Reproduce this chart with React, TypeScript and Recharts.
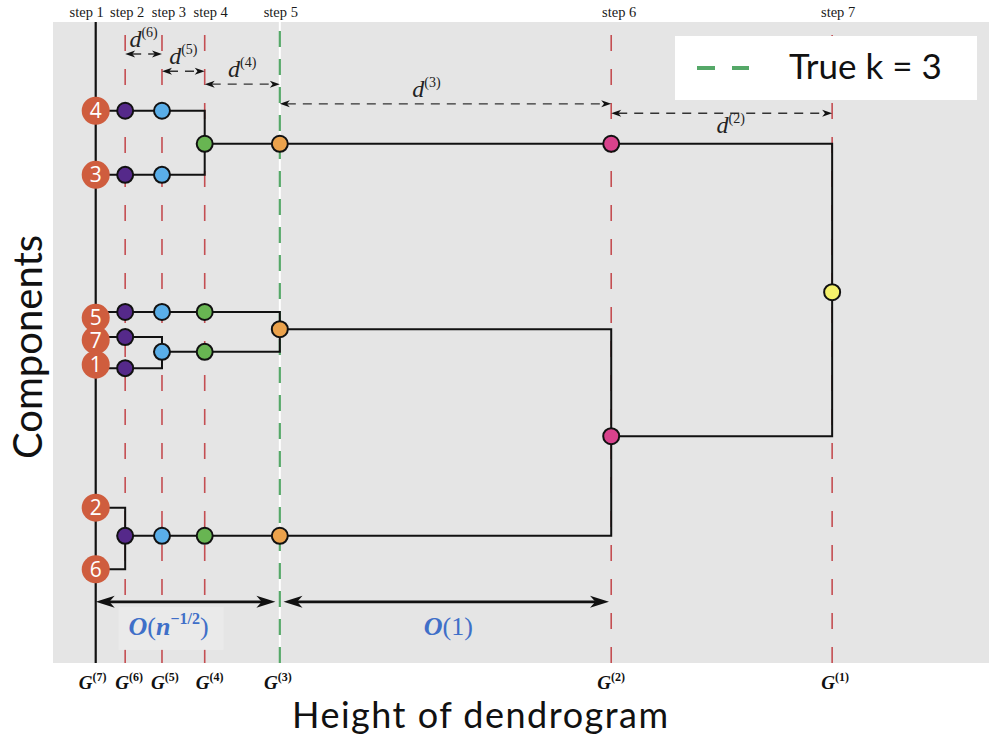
import React from 'react';
import {
  ComposedChart,
  XAxis,
  YAxis,
  Line,
  Scatter,
  ReferenceLine,
  ReferenceArea,
  Legend,
} from 'recharts';

// Dendrogram heights at which each agglomeration step happens (step 1 = singletons)
const stepNumbers = [1, 2, 3, 4, 5, 6, 7];
const stepHeights = [0, 0.4, 0.9, 1.48, 2.5, 7.0, 10.0];
const graphIndex = [7, 6, 5, 4, 3, 2, 1];
const trueK = 3;

// Leaves (components) in drawing order, top to bottom
const leafIds = [4, 3, 5, 7, 1, 2, 6];
const leafBadgePos = [11.2, 9.9, 7.0, 6.55, 6.05, 3.15, 1.9];
const leafTrackPos = [11.2, 9.9, 7.12, 6.61, 5.98, 3.15, 1.9];

// Merges: at mergeStep[k] the clusters mergeA[k] and mergeB[k] join at mergePos[k]
const mergeStep = [2, 3, 4, 5, 6, 7];
const mergeA = ['2', '7', '4', '5', '5+7+1', '4+3'];
const mergeB = ['6', '1', '3', '7+1', '2+6', '5+7+1+2+6'];
const mergePos = [2.58, 6.31, 10.53, 6.77, 4.6, 7.52];

// Gaps between consecutive graphs d^(k), drawn from step to step
const gapIndex = [6, 5, 4, 3, 2];
const gapFromStep = [2, 3, 4, 5, 6];
const gapToStep = [3, 4, 5, 6, 7];
const gapLevel = [12.35, 12.0, 11.74, 11.34, 11.15];

// Order-of-magnitude spans along the height axis
const orderLabels = ['n', '1'];
const orderFrom = [0, 2.55];
const orderTo = [2.44, 6.97];
const orderLevel = 1.24;

const X_DOMAIN: [number, number] = [-0.58, 12.13];
const Y_DOMAIN: [number, number] = [0, 13];

const BG = '#e5e5e5';
const RED = '#c44e52';
const GREEN = '#55a868';
const BADGE = '#cf5d3e';
const dotColors = ['#55298a', '#5aaee8', '#68b552', '#eba24c', '#d8428c', '#f5f16b'];
const SERIF = '"Liberation Serif", "DejaVu Serif", serif';
const SANS = 'Lato, "Noto Sans", sans-serif';

// Walk the merge list to get the branch polylines and the cluster nodes after each step
type Pt = { h: number; pos: number };
const branchPaths: Pt[][] = [];
const nodesByStep: Pt[][] = [];
{
  const live = new Map<string, { pos: number; born: number }>();
  leafIds.forEach((id, i) => live.set(String(id), { pos: leafTrackPos[i], born: 0 }));
  mergeStep.forEach((s, k) => {
    const h = stepHeights[s - 1];
    [mergeA[k], mergeB[k]].forEach((key) => {
      const c = live.get(key)!;
      branchPaths.push([
        { h: c.born, pos: c.pos },
        { h, pos: c.pos },
        { h, pos: mergePos[k] },
      ]);
      live.delete(key);
    });
    live.set(`${mergeA[k]}+${mergeB[k]}`, { pos: mergePos[k], born: h });
    nodesByStep.push(Array.from(live.values()).map((c) => ({ h, pos: c.pos })));
  });
}

const leafData = leafIds.map((id, i) => ({ h: 0, pos: leafBadgePos[i], id }));

// small horizontal nudges so the crowded labels near the leaves stay apart
const stepLabelDx = [-9, 2, 7, 6, 1, 8, 6];
const graphLabelDx = [-3, 4, 3, 5, -2, 0, 3];

const TopTick = (props: any) => {
  const { x, y, payload } = props;
  const i = stepHeights.indexOf(payload.value);
  return (
    <text
      x={x + (stepLabelDx[i] ?? 0)}
      y={y + 3}
      textAnchor="middle"
      fontFamily={SERIF}
      fontSize={14.5}
      fill="#1a1a1a"
    >
      {`step ${stepNumbers[i]}`}
    </text>
  );
};

const BottomTick = (props: any) => {
  const { x, y, payload } = props;
  const i = stepHeights.indexOf(payload.value);
  return (
    <text
      x={x + (graphLabelDx[i] ?? 0)}
      y={y + 18}
      textAnchor="middle"
      fontFamily={SERIF}
      fill="#111"
      fontWeight="bold"
    >
      <tspan fontStyle="italic" fontSize={19}>G</tspan>
      <tspan fontSize={12} dy={-8}>{`(${graphIndex[i]})`}</tspan>
    </text>
  );
};

const headPath = (tx: number, ty: number, dir: number, len: number, wid: number) => {
  const bx = tx - dir * len;
  const nx = tx - dir * len * 0.72;
  return `M${tx},${ty} L${bx},${ty - wid / 2} L${nx},${ty} L${bx},${ty + wid / 2} Z`;
};

// Dashed double arrow between two step lines with its d^(k) label
const gapArrow = (k: number, dx: number, below: boolean) => (props: any) => {
  const { x1, y1, x2 } = props;
  const len = 10;
  const wid = 7;
  const mid = (x1 + x2) / 2 + dx;
  const ly = below ? y1 + 20 : y1 - 7;
  return (
    <g>
      <line
        x1={x1 + len * 0.7}
        y1={y1}
        x2={x2 - len * 0.7}
        y2={y1}
        stroke="#333"
        strokeWidth={1.4}
        strokeDasharray="9 7"
      />
      <path d={headPath(x1, y1, -1, len, wid)} fill="#111" />
      <path d={headPath(x2, y1, 1, len, wid)} fill="#111" />
      <text x={mid} y={ly} textAnchor="middle" fontFamily={SERIF} fill="#222">
        <tspan fontStyle="italic" fontSize={24}>d</tspan>
        <tspan fontSize={14} dy={-10}>{`(${k})`}</tspan>
      </text>
    </g>
  );
};

// Solid double arrow with its O(.) label underneath
const orderArrow = (what: string) => (props: any) => {
  const { x1, y1, x2 } = props;
  const len = 19;
  const wid = 12;
  const blue = '#3f6fc8';
  const isN = what === 'n';
  const cx = isN ? (x1 + x2) / 2 - 17 : (x1 + x2) / 2 + 2;
  const ty = y1 + 33;
  return (
    <g>
      {isN && <rect x={cx - 50} y={y1 + 5} width={105} height={43} fill="#eaeaea" />}
      <line x1={x1 + len * 0.7} y1={y1} x2={x2 - len * 0.7} y2={y1} stroke="#111" strokeWidth={2.6} />
      <path d={headPath(x1, y1, -1, len, wid)} fill="#111" />
      <path d={headPath(x2, y1, 1, len, wid)} fill="#111" />
      <text x={cx} y={ty} textAnchor="middle" fontFamily={SERIF} fill={blue} fontSize={26}>
        <tspan fontStyle="italic" fontWeight="bold">O</tspan>
        <tspan>(</tspan>
        {isN ? (
          <>
            <tspan fontStyle="italic" fontWeight="bold">n</tspan>
            <tspan fontSize={16} fontWeight="bold" dy={-11}>−1/2</tspan>
            <tspan dy={11}>)</tspan>
          </>
        ) : (
          <>
            <tspan>1</tspan>
            <tspan>)</tspan>
          </>
        )}
      </text>
    </g>
  );
};

const dotShape = (fill: string) => (props: any) => (
  <circle cx={props.cx} cy={props.cy} r={8} fill={fill} stroke="#111" strokeWidth={2} />
);

const badgeShape = (props: any) => {
  const id = props.payload?.id ?? props.id;
  return (
    <g>
      <circle cx={props.cx} cy={props.cy} r={14} fill={BADGE} />
      <text
        x={props.cx}
        y={props.cy + 7.5}
        textAnchor="middle"
        fontFamily='"Open Sans", "Noto Sans", sans-serif'
        fontSize={21}
        fill="#ffffff"
      >
        {id}
      </text>
    </g>
  );
};

const renderLegend = () => (
  <div
    style={{
      width: 302,
      height: 64,
      background: '#ffffff',
      position: 'relative',
      fontFamily: SANS,
    }}
  >
    <div style={{ position: 'absolute', left: 22, top: 30, width: 18, height: 4, background: GREEN }} />
    <div style={{ position: 'absolute', left: 57, top: 30, width: 17, height: 4, background: GREEN }} />
    <div
      style={{
        position: 'absolute',
        left: 114,
        top: 7,
        fontSize: 35,
        lineHeight: '44px',
        color: '#111',
        whiteSpace: 'nowrap',
      }}
    >
      {`True k = ${trueK}`}
    </div>
  </div>
);

const XTitle = (props: any) => {
  const vb = props.viewBox || { x: 53, y: 663 };
  return (
    <text
      x={vb.x + 427}
      y={vb.y + 65}
      textAnchor="middle"
      fontFamily={SANS}
      fontSize={36}
      fill="#111"
      textLength={376}
      lengthAdjust="spacing"
    >
      Height of dendrogram
    </text>
  );
};

const YTitle = (props: any) => {
  const vb = props.viewBox || { x: 0, y: 22, width: 53, height: 641 };
  const cx = vb.x + 42;
  const cy = vb.y + vb.height / 2 + 4.5;
  return (
    <text
      x={cx}
      y={cy}
      transform={`rotate(-90, ${cx}, ${cy})`}
      textAnchor="middle"
      fontFamily={SANS}
      fontSize={40}
      fill="#111"
    >
      Components
    </text>
  );
};

export default function App() {
  return (
    <div style={{ position: 'absolute', left: 0, top: 0, width: 989, height: 740, background: '#fff' }}>
      <ComposedChart width={989} height={740} margin={{ top: 0, right: 0, bottom: 47, left: 0 }}>
        <XAxis
          type="number"
          dataKey="h"
          domain={X_DOMAIN}
          allowDataOverflow
          ticks={stepHeights}
          interval={0}
          tick={<BottomTick />}
          axisLine={false}
          tickLine={false}
          height={30}
          label={<XTitle />}
        />
        <XAxis
          xAxisId="top"
          orientation="top"
          type="number"
          dataKey="h"
          domain={X_DOMAIN}
          allowDataOverflow
          ticks={stepHeights}
          interval={0}
          tick={<TopTick />}
          axisLine={false}
          tickLine={false}
          height={22}
        />
        <YAxis
          type="number"
          dataKey="pos"
          domain={Y_DOMAIN}
          allowDataOverflow
          width={53}
          tick={false}
          axisLine={false}
          tickLine={false}
          label={<YTitle />}
        />

        <ReferenceArea
          x1={X_DOMAIN[0]}
          x2={X_DOMAIN[1]}
          y1={Y_DOMAIN[0]}
          y2={Y_DOMAIN[1]}
          fill={BG}
          fillOpacity={1}
          stroke="none"
          ifOverflow="visible"
        />

        {stepHeights.map((h, i) => {
          if (i === 0) {
            return <ReferenceLine key={`s${i}`} x={h} stroke="#111" strokeWidth={2.2} />;
          }
          if (graphIndex[i] === trueK) {
            return [
              <ReferenceLine key={`s${i}w`} x={h} stroke="#ffffff" strokeWidth={2} />,
              <ReferenceLine key={`s${i}g`} x={h} stroke={GREEN} strokeWidth={2.2} strokeDasharray="16 12" />,
            ];
          }
          return <ReferenceLine key={`s${i}`} x={h} stroke={RED} strokeWidth={1.6} strokeDasharray="16 18" />;
        })}

        {branchPaths.map((path, i) => (
          <Line
            key={`b${i}`}
            data={path}
            dataKey="pos"
            type="linear"
            stroke="#111"
            strokeWidth={2}
            dot={false}
            activeDot={false}
            isAnimationActive={false}
            legendType="none"
          />
        ))}

        {gapIndex.map((k, i) => (
          <ReferenceLine
            key={`d${k}`}
            segment={[
              { x: stepHeights[gapFromStep[i] - 1], y: gapLevel[i] },
              { x: stepHeights[gapToStep[i] - 1], y: gapLevel[i] },
            ]}
            shape={gapArrow(k, k === 3 ? -19 : k === 2 ? 9 : 0, k === 2)}
            ifOverflow="visible"
          />
        ))}

        {orderLabels.map((what, i) => (
          <ReferenceLine
            key={`o${what}`}
            segment={[
              { x: orderFrom[i], y: orderLevel },
              { x: orderTo[i], y: orderLevel },
            ]}
            shape={orderArrow(what)}
            ifOverflow="visible"
          />
        ))}

        <Scatter data={leafData} shape={badgeShape} isAnimationActive={false} legendType="none" />
        {nodesByStep.map((nodes, i) => (
          <Scatter
            key={`n${i}`}
            data={nodes}
            shape={dotShape(dotColors[i])}
            isAnimationActive={false}
            legendType="none"
          />
        ))}

        <Legend
          content={renderLegend}
          layout="horizontal"
          align="center"
          verticalAlign="middle"
          wrapperStyle={{ position: 'absolute', left: 675, top: 36, width: 302, height: 64 }}
        />
      </ComposedChart>
    </div>
  );
}
